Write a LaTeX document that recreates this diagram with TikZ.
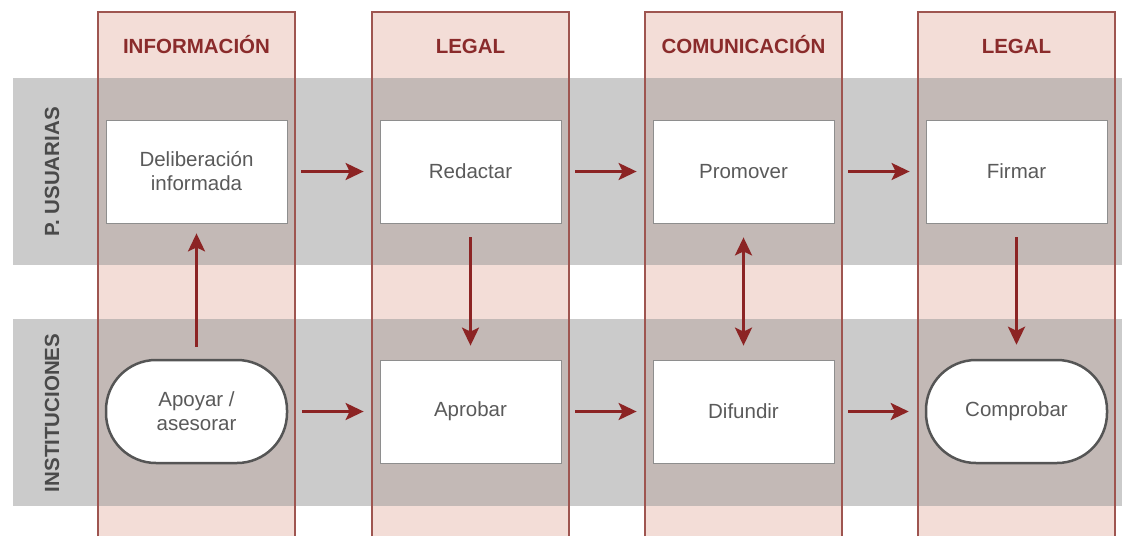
\documentclass[tikz,border=0pt]{standalone}
\usepackage{fontspec}
\setmainfont{Liberation Sans}
\usetikzlibrary{arrows.meta}

\definecolor{colpink}{HTML}{F3DDD7}
\definecolor{bandgray}{HTML}{CBCBCB}
\definecolor{overlapgray}{HTML}{C3B9B6}
\definecolor{colred}{HTML}{9E5550}
\definecolor{headred}{HTML}{8A2B2B}
\definecolor{arrowred}{HTML}{8C2424}
\definecolor{boxgray}{HTML}{8E8E8E}
\definecolor{pillgray}{HTML}{555555}
\definecolor{nodetext}{HTML}{5A5A5A}
\definecolor{lanetext}{HTML}{4A4A4A}

\tikzset{
  head/.style={text=headred, font=\fontsize{20.5}{24}\selectfont\bfseries},
  lanelabel/.style={rotate=90, text=lanetext, font=\fontsize{20.5}{24}\selectfont\bfseries},
  box/.style={draw=boxgray, line width=0.8pt, fill=white, minimum width=181pt,
    minimum height=103pt, align=center, text=nodetext,
    font=\fontsize{20.5}{24}\selectfont},
  pill/.style={box, draw=pillgray, line width=2.5pt, rounded corners=50pt},
  flow/.style={->, draw=arrowred, line width=2.8pt},
  flowboth/.style={<->, draw=arrowred, line width=2.8pt},
}

\begin{document}
\begin{tikzpicture}[x=1pt, y=-1pt, >={Stealth[length=18pt,width=17pt,inset=4pt]}]
  \useasboundingbox (0,0) rectangle (1122,536);

  % columns and lanes
  \foreach \x in {98,372,645,918} {
    \fill[colpink] (\x,12) rectangle ++(197,524);
  }
  \foreach \y in {78,319} {
    \fill[bandgray] (13,\y) rectangle (1122,\y+187);
    \foreach \x in {98,372,645,918} {
      \fill[overlapgray] (\x,\y) rectangle ++(197,187);
    }
  }
  \foreach \x in {98,372,645,918} {
    \draw[colred, line width=1.2pt] (\x,536) |- (\x+197,12) -- (\x+197,536);
  }

  % headers
  \foreach \x/\t [count=\i] in {196.5/INFORMACIÓN, 470.5/LEGAL, 743.5/COMUNICACIÓN, 1016.5/LEGAL} {
    \node[head, anchor=base] (head\i) at (\x,53) {\t};
  }

  \node[lanelabel] (usuarias) at (52,172) {P. USUARIAS};
  \node[lanelabel] (instituciones) at (52,413) {INSTITUCIONES};

  % steps
  \node[box] (delib) at (196.5,171.5) {Deliberación\\informada};
  \node[box] (redactar) at (470.5,171.5) {Redactar};
  \node[box] (promover) at (743.5,171.5) {Promover};
  \node[box] (firmar) at (1016.5,171.5) {Firmar};

  \node[pill] (apoyar) at (196.5,411.5) {Apoyar /\\asesorar};
  \node[box] (aprobar) at (470.5,411.5) {Aprobar};
  \node[box] (difundir) at (743.5,411.5) {Difundir};
  \node[pill] (comprobar) at (1016.5,411.5) {Comprobar};

  % connectors
  \draw[flow, shorten <=14pt, shorten >=16pt] (delib) -- (redactar);
  \draw[flow, shorten <=14pt, shorten >=16pt] (redactar) -- (promover);
  \draw[flow, shorten <=14pt, shorten >=16pt] (promover) -- (firmar);
  \draw[flow, shorten <=14pt, shorten >=16pt] (apoyar) -- (aprobar);
  \draw[flow, shorten <=14pt, shorten >=16pt] (aprobar) -- (difundir);
  \draw[flow, shorten <=14pt, shorten >=16pt] (difundir) -- (comprobar);

  \draw[flow, shorten <=12pt, shorten >=10pt] (apoyar) -- (delib);
  \draw[flow, shorten <=14pt, shorten >=14pt] (redactar) -- (aprobar);
  \draw[flowboth, shorten <=14pt, shorten >=14pt] (promover) -- (difundir);
  \draw[flow, shorten <=14pt, shorten >=14pt] (firmar) -- (comprobar);
\end{tikzpicture}
\end{document}
